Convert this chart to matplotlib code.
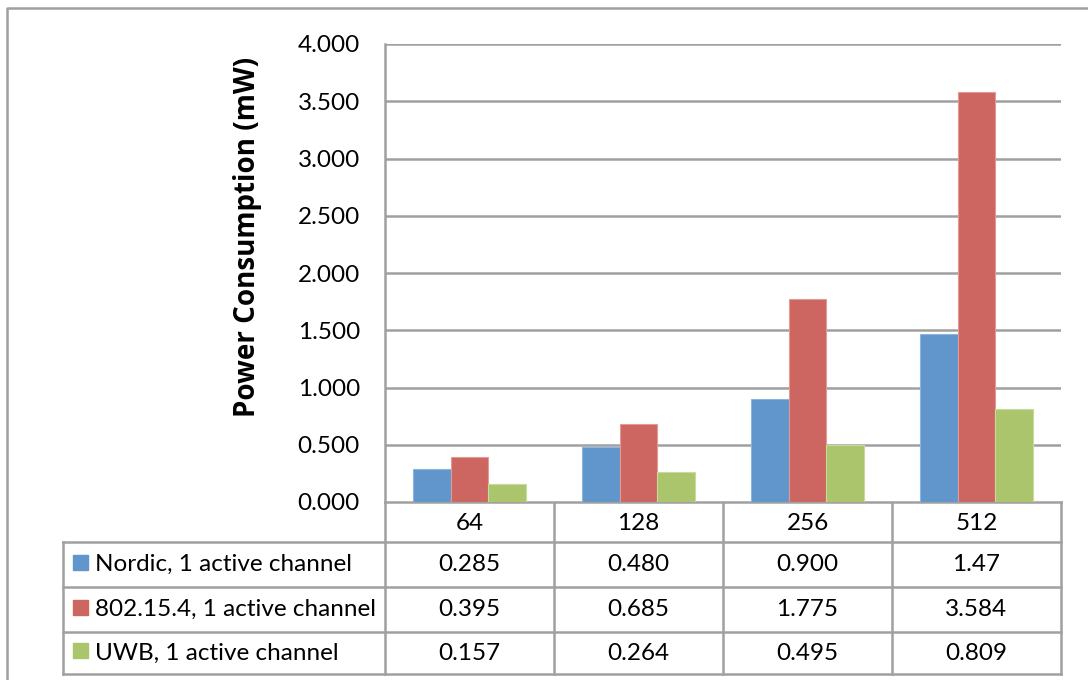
import numpy as np
import matplotlib.pyplot as plt

plt.rcParams['font.family'] = ['Lato', 'DejaVu Sans']

categories = ["64", "128", "256", "512"]
series_names = ["Nordic, 1 active channel", "802.15.4, 1 active channel", "UWB, 1 active channel"]
nordic = [0.285, 0.480, 0.900, 1.47]
ieee = [0.395, 0.685, 1.775, 3.584]
uwb = [0.157, 0.264, 0.495, 0.809]
table_text = [["0.285", "0.480", "0.900", "1.47"],
              ["0.395", "0.685", "1.775", "3.584"],
              ["0.157", "0.264", "0.495", "0.809"]]
yticks = [0, 0.5, 1.0, 1.5, 2.0, 2.5, 3.0, 3.5, 4.0]

colors = ["#6096CB", "#CD6660", "#ABC56C"]
edges = ["#8CB4DC", "#E29A96", "#C8DA9C"]
grid_c = "#A0A0A0"
fs = 17.5

W, H = 1088, 680
fig = plt.figure(figsize=(W / 100, H / 100), dpi=100)

# plot area in pixels
pl, pr, pt, pb = 385, 1061, 44, 502
ax = fig.add_axes([pl / W, 1 - pb / H, (pr - pl) / W, (pb - pt) / H])
ax.set_xlim(-0.5, len(categories) - 0.5)
ax.set_ylim(0, 4)

x = np.arange(len(categories))
bw = 0.222
for i, vals in enumerate([nordic, ieee, uwb]):
    ax.bar(x + (i - 1) * bw, vals, bw, color=colors[i], edgecolor=edges[i],
           linewidth=0.8, zorder=3)

ax.set_yticks(yticks, ["%.3f" % v for v in yticks])
ax.set_xticks([])
ax.tick_params(axis='y', length=0, labelsize=fs, pad=18)
ax.grid(axis='y', color=grid_c, linewidth=1.8, zorder=0)
for s in ["top", "right", "bottom"]:
    ax.spines[s].set_visible(False)
ax.spines["left"].set_color(grid_c)
ax.spines["left"].set_linewidth(1.8)
ax.set_ylabel("Power Consumption (mW)", fontsize=20, fontweight='bold',
              family=['Open Sans', 'DejaVu Sans'])
ax.yaxis.set_label_coords((262 - pl) / (pr - pl), (pb - 237) / (pb - pt))

# table overlay in pixel coordinates
tab = fig.add_axes([0, 0, 1, 1], zorder=-1)
tab.set_xlim(0, W)
tab.set_ylim(H, 0)
tab.axis('off')

lw = 1.8
tl = 63
colw = (pr - pl) / len(categories)
col_edges = [pl + i * colw for i in range(len(categories) + 1)]
row_edges = [pb, 542, 587, 632, 674]

# figure border
tab.plot([7, 7, W], [H, 8, 8], color=grid_c, lw=1.8)

# horizontal lines
tab.plot([pl, pr], [row_edges[0], row_edges[0]], color=grid_c, lw=lw)
for yy in row_edges[1:]:
    tab.plot([tl, pr], [yy, yy], color=grid_c, lw=lw)
# vertical lines
for xx in col_edges:
    tab.plot([xx, xx], [row_edges[0], row_edges[-1]], color=grid_c, lw=lw)
tab.plot([tl, tl], [row_edges[1], row_edges[-1]], color=grid_c, lw=lw)

for j, c in enumerate(categories):
    tab.text((col_edges[j] + col_edges[j + 1]) / 2, (row_edges[0] + row_edges[1]) / 2 + 1,
             c, ha='center', va='center', fontsize=fs)
for i, name in enumerate(series_names):
    yc = (row_edges[i + 1] + row_edges[i + 2]) / 2
    tab.add_patch(plt.Rectangle((73, yc - 10), 15, 15, color=colors[i]))
    tab.text(95, yc, name, ha='left', va='center', fontsize=fs)
    for j in range(len(categories)):
        tab.text((col_edges[j] + col_edges[j + 1]) / 2, yc, table_text[i][j],
                 ha='center', va='center', fontsize=fs)

fig.savefig("out.png", dpi=100)
